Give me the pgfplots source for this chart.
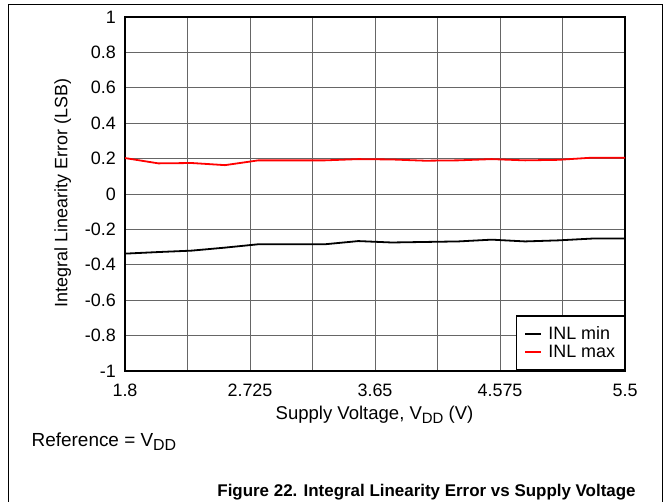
\documentclass[border=0pt]{standalone}
\usepackage{fontspec}
\setmainfont{Liberation Sans}
\usepackage{pgfplots}
\pgfplotsset{compat=1.18}
\newcommand\sub[2]{#1\raisebox{-3.5bp}{\fontsize{#2}{#2}\selectfont DD}}
\begin{document}
\begin{tikzpicture}[x=1bp,y=1bp]
\useasboundingbox (0,0) rectangle (671,502);
\draw[line width=1bp] (8,0) -- (8,497) -- (662,497) -- (662,0);
\begin{axis}[at={(125bp,131bp)}, anchor=south west, scale only axis, width=500bp, height=354bp,
  xmin=1.8, xmax=5.5, ymin=-1, ymax=1,
  xtick={1.8,2.725,3.65,4.575,5.5}, xticklabels={1.8,2.725,3.65,4.575,5.5},
  minor xtick={2.2625,3.1875,4.1125,5.0375},
  ytick={-1,-0.8,-0.6,-0.4,-0.2,0,0.2,0.4,0.6,0.8,1},
  yticklabels={-1,-0.8,-0.6,-0.4,-0.2,0,0.2,0.4,0.6,0.8,1},
  grid=both,
  major grid style={black!60, line width=0.6bp},
  minor grid style={black!60, line width=0.6bp},
  axis line style={line width=1.8bp},
  tick style={draw=none},
  ticklabel style={font=\fontsize{18}{18}\selectfont},
  yticklabel style={inner sep=0pt, xshift=-9bp},
  xticklabel style={inner sep=0pt, yshift=-13bp},
  legend style={at={(1,0)}, anchor=south east, xshift=1bp, line width=1.8bp, draw=black,
    font=\fontsize{18}{20}\selectfont, inner xsep=8bp, inner ysep=9bp, row sep=0bp,
    /tikz/every odd column/.append style={column sep=4bp}},
  legend cell align=left,
  legend image code/.code={\draw[#1, line width=1.8bp] (0bp,0bp) -- (16bp,0bp);},
]
\addplot[black, line width=1.8bp] coordinates {
(1.8,-0.337) (2.0467,-0.328) (2.2933,-0.32) (2.54,-0.303) (2.7867,-0.284) (3.0333,-0.284)
(3.28,-0.284) (3.5267,-0.266) (3.7733,-0.274) (4.02,-0.271) (4.2667,-0.268) (4.5133,-0.258)
(4.76,-0.268) (5.0067,-0.262) (5.2533,-0.252) (5.5,-0.252)};
\addlegendentry{INL min}
\addplot[red, line width=1.8bp] coordinates {
(1.8,0.203) (2.0467,0.173) (2.2933,0.175) (2.54,0.163) (2.7867,0.19) (3.0333,0.19)
(3.28,0.19) (3.5267,0.197) (3.7733,0.195) (4.02,0.188) (4.2667,0.19) (4.5133,0.197)
(4.76,0.19) (5.0067,0.193) (5.2533,0.205) (5.5,0.205)};
\addlegendentry{INL max}
\end{axis}
\node[rotate=90, anchor=base, inner sep=0pt, font=\fontsize{18}{18}\selectfont] at (67.3,309) {Integral Linearity Error (LSB)};
\node[anchor=base, inner sep=0pt, font=\fontsize{18.6}{18.6}\selectfont] at (374.5,82) {Supply Voltage, \sub{V}{15} (V)};
\node[anchor=base west, inner sep=0pt, font=\fontsize{19}{19}\selectfont] at (31.5,55.3) {Reference = \sub{V}{16}};
\node[anchor=base, inner sep=0pt, font=\bfseries\fontsize{17}{17}\selectfont] at (426.5,5.3) {Figure 22. Integral Linearity Error vs Supply Voltage};
\end{tikzpicture}
\end{document}
